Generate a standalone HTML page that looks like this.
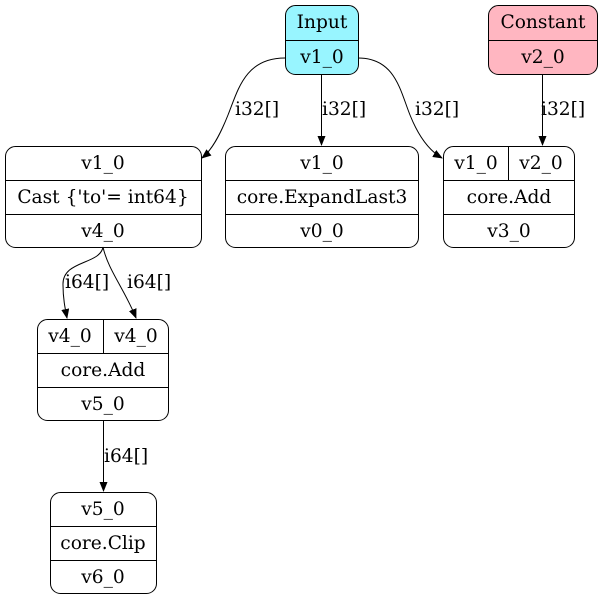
<!DOCTYPE html>
<html><head><style>
html,body{margin:0;padding:0;background:#fff;}
svg{display:block;}
text{font-family:"DejaVu Serif",serif;font-size:18.6px;fill:#000;}
</style></head><body>
<svg width="601" height="601" viewBox="0 0 601 601" xmlns="http://www.w3.org/2000/svg">
<defs><marker id="a" markerWidth="10" markerHeight="8" refX="9" refY="4" orient="auto" markerUnits="userSpaceOnUse"><path d="M0,0 L10,4 L0,8 Z" fill="#000"/></marker></defs>
<g fill="none" stroke="#000" stroke-width="1">
<rect x="285.5" y="5.5" width="73" height="69" rx="10" fill="#98f5ff"/>
<line x1="285.5" y1="40.5" x2="358.5" y2="40.5"/>
<rect x="488.5" y="5.5" width="109" height="69" rx="10" fill="#ffb6c1"/>
<line x1="488.5" y1="40.5" x2="597.5" y2="40.5"/>
<rect x="5.5" y="146.5" width="196" height="101" rx="10" fill="#fff"/>
<line x1="5.5" y1="180.5" x2="201.5" y2="180.5"/>
<line x1="5.5" y1="214.5" x2="201.5" y2="214.5"/>
<rect x="225.5" y="146.5" width="193" height="101" rx="10" fill="#fff"/>
<line x1="225.5" y1="180.5" x2="418.5" y2="180.5"/>
<line x1="225.5" y1="214.5" x2="418.5" y2="214.5"/>
<rect x="443.5" y="146.5" width="131" height="101" rx="10" fill="#fff"/>
<line x1="443.5" y1="180.5" x2="574.5" y2="180.5"/>
<line x1="443.5" y1="214.5" x2="574.5" y2="214.5"/>
<line x1="508.5" y1="146.5" x2="508.5" y2="180.5"/>
<rect x="37.5" y="319.5" width="131" height="101" rx="10" fill="#fff"/>
<line x1="37.5" y1="353.5" x2="168.5" y2="353.5"/>
<line x1="37.5" y1="387.5" x2="168.5" y2="387.5"/>
<line x1="103.5" y1="319.5" x2="103.5" y2="353.5"/>
<rect x="50.5" y="492.5" width="106" height="101" rx="10" fill="#fff"/>
<line x1="50.5" y1="526.5" x2="156.5" y2="526.5"/>
<line x1="50.5" y1="560.5" x2="156.5" y2="560.5"/>
<path d="M285,58 C245,58 238,90 228,115 C220,135 212,150 202,158" marker-end="url(#a)"/>
<path d="M321.5,74 L321.5,145" marker-end="url(#a)"/>
<path d="M358,58 C395,58 400,90 410,115 C418,135 428,150 442,158" marker-end="url(#a)"/>
<path d="M542.5,74 L542.5,145" marker-end="url(#a)"/>
<path d="M103,247 C100,265 62,260 63,285 C63,298 65,308 67,318" marker-end="url(#a)"/>
<path d="M103,247 C108,270 125,290 136,318" marker-end="url(#a)"/>
<path d="M103.5,420 L103.5,491" marker-end="url(#a)"/>
</g>
<g text-anchor="middle">
<text x="322" y="28">Input</text>
<text x="322" y="63">v1_0</text>
<text x="543" y="28">Constant</text>
<text x="543" y="63">v2_0</text>
<text x="103" y="169">v1_0</text>
<text x="103" y="203">Cast {'to'= int64}</text>
<text x="103" y="237">v4_0</text>
<text x="322" y="169">v1_0</text>
<text x="322" y="203">core.ExpandLast3</text>
<text x="322" y="237">v0_0</text>
<text x="476" y="169">v1_0</text>
<text x="541" y="169">v2_0</text>
<text x="509" y="203">core.Add</text>
<text x="509" y="237">v3_0</text>
<text x="70" y="342">v4_0</text>
<text x="136" y="342">v4_0</text>
<text x="103" y="376">core.Add</text>
<text x="103" y="410">v5_0</text>
<text x="103" y="515">v5_0</text>
<text x="103" y="549">core.Clip</text>
<text x="103" y="583">v6_0</text>
</g>
<g>
<text x="235" y="115">i32[]</text>
<text x="322" y="115">i32[]</text>
<text x="415" y="115">i32[]</text>
<text x="541" y="115">i32[]</text>
<text x="65" y="288">i64[]</text>
<text x="127" y="288">i64[]</text>
<text x="104" y="462">i64[]</text>
</g>
</svg>
</body></html>
